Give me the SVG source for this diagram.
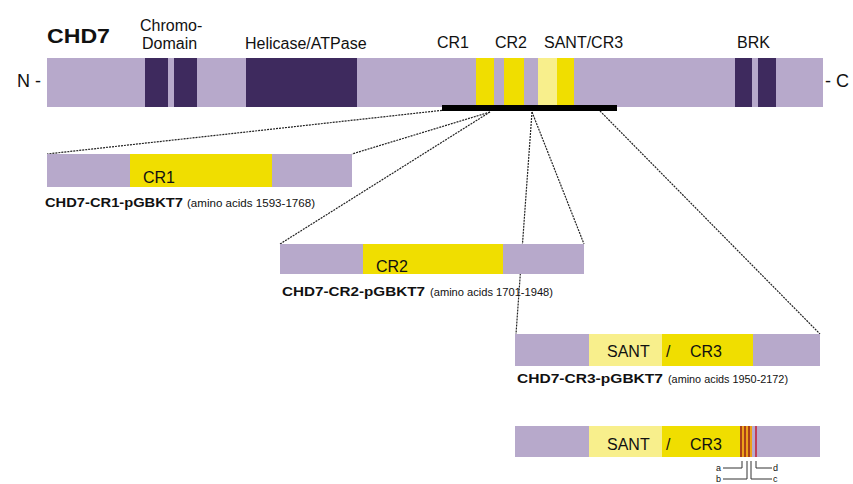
<svg xmlns="http://www.w3.org/2000/svg" width="853" height="484" viewBox="0 0 853 484">
<style>
text{font-family:"Liberation Sans",Arial,sans-serif;fill:#111}
.bg{fill:#b7a9cb}
.dk{fill:#3e2a5e}
.y{fill:#f0de00}
.ly{fill:#f8ef8c}
.lbl{font-size:16px}
.cap{font-size:13.5px;font-weight:bold}
.aa{font-size:10px}
.dot{fill:none;stroke:#222;stroke-width:1.2;stroke-dasharray:2 1}
.tick{fill:none;stroke:#333;stroke-width:1}
.sm{font-size:9px}
</style>
<rect width="853" height="484" fill="#fff"/>

<g id="connectors">
<line class="dot" x1="445" y1="110" x2="47" y2="154"/>
<line class="dot" x1="490" y1="112" x2="352" y2="154"/>
<line class="dot" x1="490" y1="112" x2="280" y2="244"/>
<line class="dot" x1="532" y1="112" x2="584" y2="244"/>
<line class="dot" x1="532" y1="112" x2="516" y2="334"/>
<line class="dot" x1="600" y1="111" x2="820" y2="334"/>
</g>

<g id="chd7-full">
<text x="47" y="43" font-size="21" font-weight="bold" textLength="63" lengthAdjust="spacingAndGlyphs">CHD7</text>
<text x="17" y="87" font-size="18">N -</text>
<text x="825" y="87" font-size="18">- C</text>
<rect class="bg" x="47" y="58" width="776" height="49"/>
<rect class="dk" x="145" y="58" width="23" height="49"/>
<rect class="dk" x="174" y="58" width="23" height="49"/>
<rect class="dk" x="246" y="58" width="111" height="49"/>
<rect class="y" x="476" y="58" width="18" height="49"/>
<rect class="y" x="504" y="58" width="20" height="49"/>
<rect class="ly" x="538" y="58" width="19" height="49"/>
<rect class="y" x="557" y="58" width="17" height="49"/>
<rect class="dk" x="735" y="58" width="17" height="49"/>
<rect class="dk" x="758" y="58" width="18" height="49"/>
<rect fill="#000" x="442" y="105" width="175" height="6"/>
<text class="lbl" x="140" y="31">Chromo-</text>
<text class="lbl" x="142" y="49">Domain</text>
<text class="lbl" x="245" y="49">Helicase/ATPase</text>
<text class="lbl" x="437" y="48">CR1</text>
<text class="lbl" x="495" y="48">CR2</text>
<text class="lbl" x="544" y="48">SANT/CR3</text>
<text class="lbl" x="737" y="48">BRK</text>
</g>

<g id="cr1">
<rect class="bg" x="47" y="154" width="305" height="33"/>
<rect class="y" x="130" y="154" width="142" height="33"/>
<text class="lbl" x="143" y="183">CR1</text>
<text class="cap" x="45" y="207" textLength="138" lengthAdjust="spacingAndGlyphs">CHD7-CR1-pGBKT7</text>
<text class="aa" x="187" y="207" textLength="128" lengthAdjust="spacingAndGlyphs">(amino acids 1593-1768)</text>
</g>

<g id="cr2">
<rect class="bg" x="280" y="244" width="304" height="30"/>
<rect class="y" x="363" y="244" width="140" height="30"/>
<text class="lbl" x="376" y="272">CR2</text>
<text class="cap" x="282" y="296" textLength="143" lengthAdjust="spacingAndGlyphs">CHD7-CR2-pGBKT7</text>
<text class="aa" x="430" y="296" textLength="123" lengthAdjust="spacingAndGlyphs">(amino acids 1701-1948)</text>
</g>

<g id="cr3">
<rect class="bg" x="515" y="334" width="305" height="32"/>
<rect class="ly" x="589" y="334" width="73" height="32"/>
<rect class="y" x="662" y="334" width="91" height="32"/>
<text class="lbl" x="607" y="357">SANT</text>
<text class="lbl" x="666" y="357">/</text>
<text class="lbl" x="690" y="357">CR3</text>
<text class="cap" x="517" y="383" textLength="146" lengthAdjust="spacingAndGlyphs">CHD7-CR3-pGBKT7</text>
<text class="aa" x="668" y="383" textLength="120" lengthAdjust="spacingAndGlyphs">(amino acids 1950-2172)</text>
</g>

<g id="cr3-mut">
<rect class="bg" x="515" y="426" width="305" height="31"/>
<rect class="ly" x="589" y="426" width="73" height="31"/>
<rect class="y" x="662" y="426" width="78" height="31"/>
<rect fill="#eda21a" x="740" y="426" width="12" height="31"/>
<rect fill="#9a2a1a" x="740.2" y="426" width="1.6" height="31"/>
<rect fill="#9a2a1a" x="744.2" y="426" width="1.6" height="31"/>
<rect fill="#9a2a1a" x="748.2" y="426" width="1.6" height="31"/>
<rect fill="#c3263e" x="755.2" y="426" width="1.6" height="31"/>
<text class="lbl" x="607" y="450">SANT</text>
<text class="lbl" x="666" y="450">/</text>
<text class="lbl" x="690" y="450">CR3</text>
<path class="tick" d="M723,468H742V461M723,479H747V461M772,479H751V461M772,468H756V461"/>
<text class="sm" x="716" y="471">a</text>
<text class="sm" x="716" y="482">b</text>
<text class="sm" x="773" y="471">d</text>
<text class="sm" x="773" y="482">c</text>
</g>
</svg>
